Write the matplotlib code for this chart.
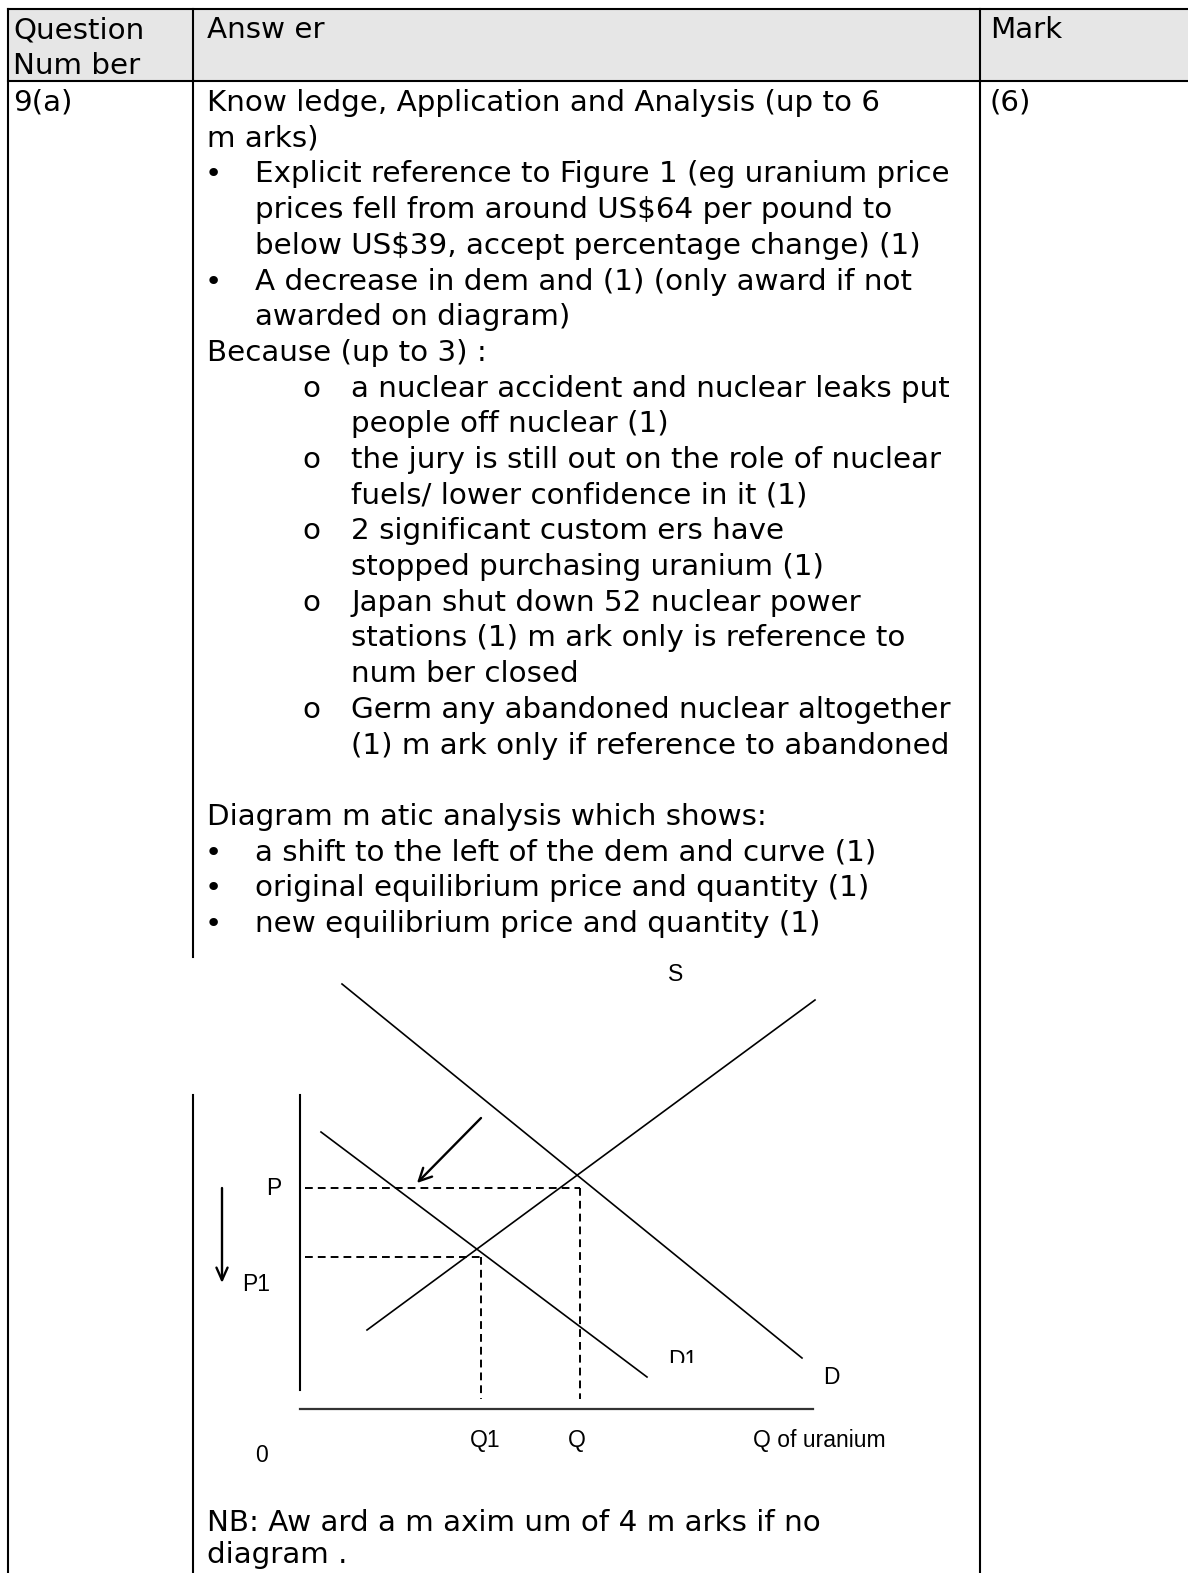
import matplotlib
matplotlib.use('Agg')
import matplotlib.pyplot as plt
from matplotlib.patches import Rectangle
from matplotlib.transforms import Bbox, TransformedBbox

W, H = 1188, 1573

# ---- table text ----
header_q = ['Question', 'Num ber']
header_a = 'Answ er'
header_m = 'Mark'
question_no = '9(a)'
mark_value = '(6)'

# (style, text): plain / bullet / cont / sub / subcont / blank
answer_rows = [
    ('plain', 'Know ledge, Application and Analysis (up to 6'),
    ('plain', 'm arks)'),
    ('bullet', 'Explicit reference to Figure 1 (eg uranium price'),
    ('cont', 'prices fell from around US$64 per pound to'),
    ('cont', 'below US$39, accept percentage change) (1)'),
    ('bullet', 'A decrease in dem and (1) (only award if not'),
    ('cont', 'awarded on diagram)'),
    ('plain', 'Because (up to 3) :'),
    ('sub', 'a nuclear accident and nuclear leaks put'),
    ('subcont', 'people off nuclear (1)'),
    ('sub', 'the jury is still out on the role of nuclear'),
    ('subcont', 'fuels/ lower confidence in it (1)'),
    ('sub', '2 significant custom ers have'),
    ('subcont', 'stopped purchasing uranium (1)'),
    ('sub', 'Japan shut down 52 nuclear power'),
    ('subcont', 'stations (1) m ark only is reference to'),
    ('subcont', 'num ber closed'),
    ('sub', 'Germ any abandoned nuclear altogether'),
    ('subcont', '(1) m ark only if reference to abandoned'),
    ('blank', ''),
    ('plain', 'Diagram m atic analysis which shows:'),
    ('bullet', 'a shift to the left of the dem and curve (1)'),
    ('bullet', 'original equilibrium price and quantity (1)'),
    ('bullet', 'new equilibrium price and quantity (1)'),
]
nb_rows = ['NB: Aw ard a m axim um of 4 m arks if no', 'diagram .']

# ---- diagram values (quantity, price units) ----
demand_q = [42, 502]
demand_p = [425, 51]
supply_q = [67, 515]
supply_p = [79, 409]
demand1_q = [21, 347]
demand1_p = [277, 32]
price_p, price_p1 = 221, 152
qty_q, qty_q1 = 280, 181
price_axis_p = [19, 314]
qty_axis_q = [0, 513]
shift_from = (181, 291)
shift_to = (117, 226)
fall_q = -78
fall_p = [221, 126]
diagram_labels = [
    ('S', 368, 428), ('P', -34, 214), ('P1', -58, 118),
    ('Q1', 170, -38), ('Q', 268, -38), ('Q of uranium', 453, -38),
    ('0', -45, -53), ('D', 523, 25),
]
d1_label = ('D1', 368, 42)

# ---- layout ----
col_x = [8, 193, 980]
top_y, head_y = 9, 81
gap_top, gap_bot = 957, 1095
row_base0, row_step = 111, 35.7
x_plain, x_bullet_dot, x_bullet_txt = 207, 213, 255
x_sub_dot, x_sub_txt = 302, 351

body_font = 'DejaVu Sans'
diag_font = ['Liberation Sans', 'DejaVu Sans']

fig = plt.figure(figsize=(W / 100, H / 100), dpi=100)
ax = fig.add_axes([0, 0, 1, 1])
ax.set_xlim(0, W)
ax.set_ylim(H, 0)
ax.axis('off')

# size the body font so a long line fills the column as in the source
ref_line = answer_rows[2][1]
fig.canvas.draw()
renderer = fig.canvas.get_renderer()
probe = ax.text(0, 0, ref_line, fontsize=20, family=body_font)
probe_w = probe.get_window_extent(renderer).width
probe.remove()
fs = 20 * 695 / probe_w

# header background and grid lines
ax.add_patch(Rectangle((col_x[0], top_y), W - col_x[0], head_y - top_y,
                       facecolor='#e6e6e6', edgecolor='none', zorder=0))
lw_tab = 1.5
ax.plot([col_x[0], W], [top_y, top_y], color='black', lw=lw_tab)
ax.plot([col_x[0], W], [head_y, head_y], color='black', lw=lw_tab)
ax.plot([col_x[0], col_x[0]], [top_y, H], color='black', lw=lw_tab)
ax.plot([col_x[1], col_x[1]], [top_y, gap_top], color='black', lw=lw_tab)
ax.plot([col_x[1], col_x[1]], [gap_bot, H], color='black', lw=lw_tab)
ax.plot([col_x[2], col_x[2]], [top_y, H], color='black', lw=lw_tab)


def put(x, y, s, **kw):
    ax.text(x, y, s, fontsize=fs, family=body_font, va='baseline', ha='left', **kw)


# header text
for i, s in enumerate(header_q):
    put(13, 38 + i * row_step, s)
put(x_plain, 38, header_a)
put(990, 38, header_m)

put(13, row_base0, question_no)
put(990, row_base0, mark_value)

for i, (style, s) in enumerate(answer_rows):
    yb = row_base0 + i * row_step
    if style == 'plain':
        put(x_plain, yb, s)
    elif style == 'bullet':
        ax.text(x_bullet_dot, yb, '\u2022', fontsize=fs, family=body_font,
                va='baseline', ha='center')
        put(x_bullet_txt, yb, s)
    elif style == 'cont':
        put(x_bullet_txt, yb, s)
    elif style == 'sub':
        put(x_sub_dot, yb, 'o')
        put(x_sub_txt, yb, s)
    elif style == 'subcont':
        put(x_sub_txt, yb, s)

# NB note sits at the very bottom; keep the last line inside the canvas
for i, s in enumerate(nb_rows):
    put(x_plain, 1531 + i * 32, s)

# ---- diagram ----
dx0, dx1, dy0, dy1 = 200, 1000, 940, 1480
axd = fig.add_axes([dx0 / W, 1 - dy1 / H, (dx1 - dx0) / W, (dy1 - dy0) / H])
axd.set_xlim(dx0 - 300, dx1 - 300)
axd.set_ylim(1409 - dy1, 1409 - dy0)
axd.axis('off')

lw_curve = 1.2
axd.plot(demand_q, demand_p, color='black', lw=lw_curve, clip_on=False)
axd.plot(supply_q, supply_p, color='black', lw=lw_curve, clip_on=False)
axd.plot(demand1_q, demand1_p, color='black', lw=lw_curve, clip_on=False)
axd.plot([0, 0], price_axis_p, color='black', lw=1.5, clip_on=False)
axd.plot(qty_axis_q, [0, 0], color='#333333', lw=1.6, clip_on=False)

dash = dict(color='black', lw=1.4, dashes=(4, 2.6), clip_on=False)
axd.plot([5, qty_q], [price_p, price_p], **dash)
axd.plot([qty_q, qty_q], [price_p, 10], **dash)
axd.plot([5, qty_q1], [price_p1, price_p1], **dash)
axd.plot([qty_q1, qty_q1], [price_p1, 10], **dash)

axd.annotate('', xy=shift_to, xytext=shift_from,
             arrowprops=dict(arrowstyle='->,head_length=0.9,head_width=0.45',
                             color='black', lw=1.7, shrinkA=0, shrinkB=0))
axd.annotate('', xy=(fall_q, fall_p[1]), xytext=(fall_q, fall_p[0]),
             arrowprops=dict(arrowstyle='->,head_length=0.9,head_width=0.4',
                             color='black', lw=1.7, shrinkA=0, shrinkB=0))

for s, q, p in diagram_labels:
    axd.text(q, p, s, fontsize=16.5, family=diag_font, va='baseline', ha='left')

t = axd.text(d1_label[1], d1_label[2], d1_label[0], fontsize=16.5, family=diag_font,
             va='baseline', ha='left')
t.set_clip_box(TransformedBbox(Bbox([[-100, 46], [700, 469]]), axd.transData))
t.set_clip_on(True)

fig.savefig('out.png', dpi=100)
